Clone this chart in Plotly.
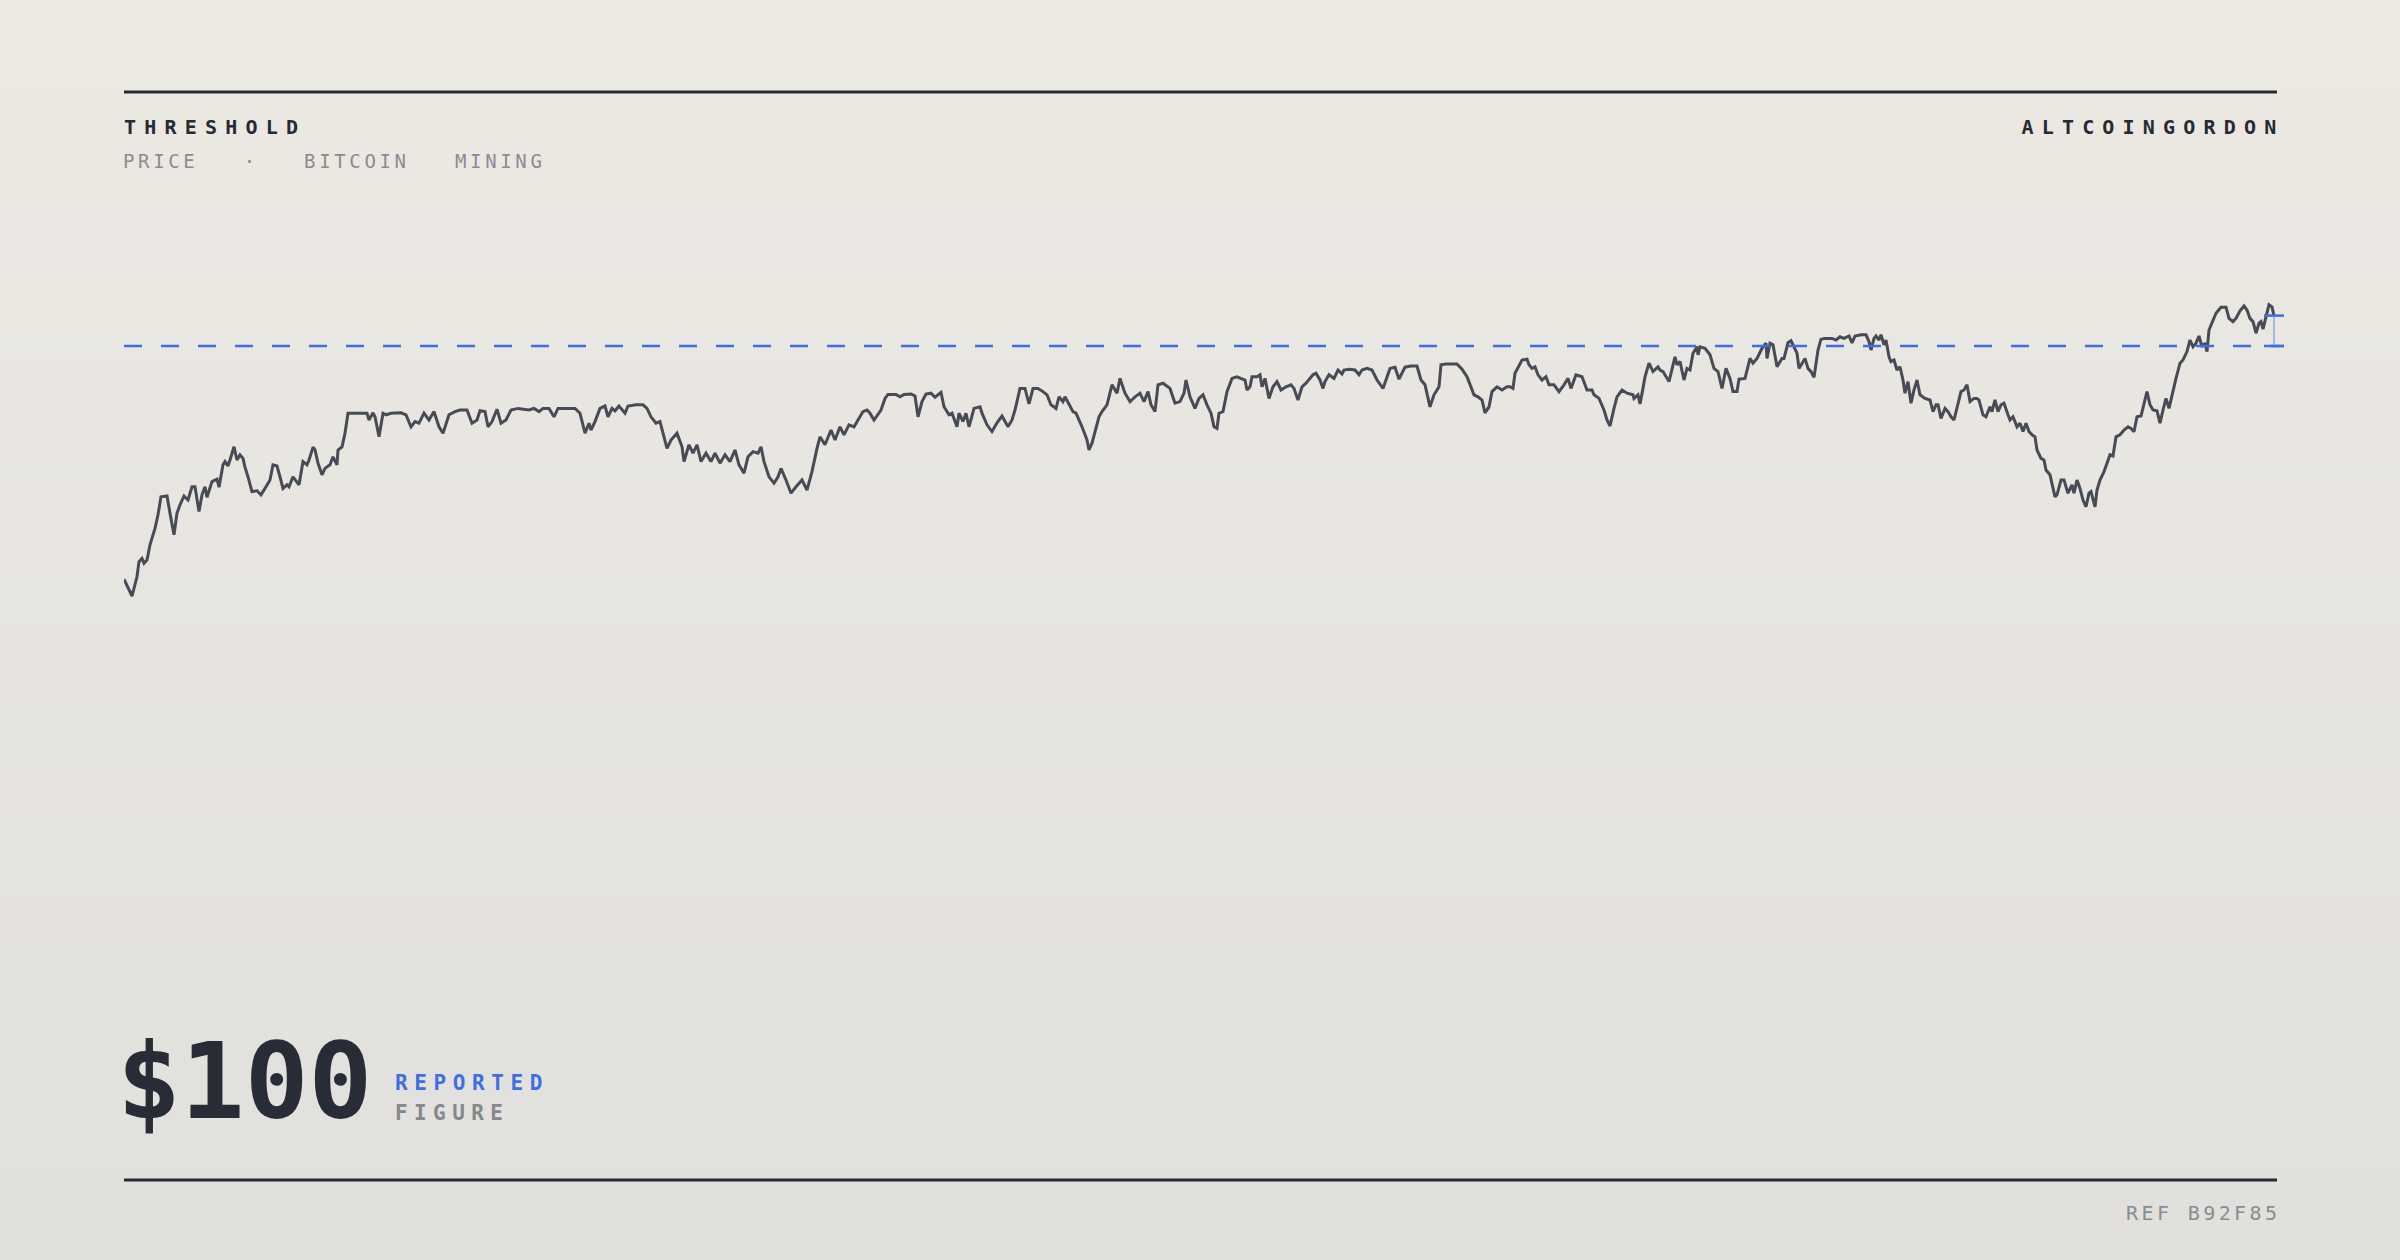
import json
import plotly.graph_objects as go

W, H = 2400, 1260

# ---------------- data ----------------
days = [
    0, 8, 13, 15, 18, 20, 23, 26, 31, 34, 37, 43, 46, 50, 53, 56, 60, 64, 68, 71,
    75, 78, 81, 83, 88, 93, 95, 99, 101, 104, 107, 110, 113, 116, 119, 121, 124, 128, 133, 137,
    141, 146, 149, 153, 156, 159, 163, 165, 169, 173, 175, 179, 183, 185, 189, 191, 194, 198, 201, 206,
    209, 213, 214, 218, 221, 224, 233, 243, 245, 249, 251, 255, 259, 262, 267, 273, 277, 282, 287, 291,
    295, 300, 305, 310, 315, 319, 325, 331, 336, 343, 348, 353, 356, 361, 364, 368, 373, 377, 382, 387,
    394, 405, 410, 415, 419, 425, 430, 434, 443, 451, 456, 461, 465, 467, 471, 476, 481, 484, 488, 491,
    495, 501, 504, 512, 519, 523, 527, 532, 536, 540, 543, 547, 553, 558, 560, 565, 569, 573, 577, 582,
    587, 591, 596, 601, 606, 611, 615, 620, 624, 629, 634, 637, 640, 645, 650, 654, 657, 662, 667, 672,
    678, 683, 688, 693, 696, 701, 707, 711, 716, 720, 725, 730, 734, 739, 743, 746, 750, 754, 757, 761,
    764, 772, 776, 780, 787, 791, 794, 798, 802, 807, 811, 817, 820, 825, 828, 833, 835, 839, 842, 845,
    850, 856, 858, 863, 868, 873, 878, 884, 888, 891, 896, 901, 905, 909, 914, 919, 923, 927, 932, 935,
    939, 941, 945, 949, 952, 958, 963, 965, 968, 972, 975, 978, 983, 988, 993, 996, 1001, 1006, 1011, 1016,
    1020, 1024, 1027, 1031, 1034, 1039, 1046, 1051, 1056, 1060, 1062, 1066, 1071, 1075, 1079, 1083, 1087, 1090, 1093, 1095,
    1099, 1103, 1108, 1113, 1118, 1121, 1123, 1126, 1128, 1133, 1136, 1138, 1141, 1145, 1149, 1153, 1157, 1162, 1167, 1170,
    1174, 1178, 1182, 1189, 1192, 1196, 1199, 1201, 1205, 1210, 1214, 1218, 1220, 1225, 1231, 1235, 1238, 1243, 1248, 1253,
    1259, 1262, 1266, 1271, 1275, 1281, 1287, 1293, 1297, 1301, 1306, 1310, 1315, 1317, 1322, 1333, 1338, 1343, 1347, 1350,
    1354, 1358, 1361, 1365, 1368, 1373, 1378, 1383, 1386, 1389, 1391, 1395, 1398, 1403, 1405, 1408, 1411, 1414, 1418, 1422,
    1425, 1430, 1435, 1440, 1444, 1447, 1452, 1458, 1463, 1468, 1470, 1475, 1480, 1483, 1486, 1490, 1493, 1498, 1503, 1509,
    1510, 1514, 1516, 1519, 1521, 1525, 1529, 1534, 1536, 1539, 1545, 1551, 1553, 1556, 1560, 1563, 1566, 1569, 1573, 1574,
    1576, 1581, 1586, 1590, 1594, 1598, 1602, 1606, 1609, 1613, 1615, 1621, 1626, 1629, 1633, 1638, 1642, 1643, 1646, 1649,
    1653, 1658, 1660, 1664, 1667, 1670, 1673, 1675, 1678, 1681, 1684, 1687, 1690, 1694, 1697, 1701, 1708, 1712, 1716, 1720,
    1725, 1728, 1731, 1737, 1742, 1745, 1747, 1750, 1752, 1755, 1757, 1760, 1762, 1765, 1767, 1770, 1773, 1776, 1779, 1781,
    1784, 1787, 1790, 1793, 1796, 1801, 1806, 1809, 1812, 1814, 1817, 1821, 1824, 1827, 1830, 1834, 1837, 1840, 1843, 1846,
    1850, 1853, 1855, 1859, 1862, 1866, 1868, 1871, 1874, 1877, 1880, 1884, 1886, 1889, 1893, 1896, 1899, 1902, 1905, 1908,
    1911, 1913, 1917, 1920, 1922, 1926, 1929, 1931, 1933, 1937, 1940, 1944, 1948, 1950, 1953, 1956, 1959, 1962, 1965, 1967,
    1971, 1973, 1976, 1980, 1983, 1986, 1989, 1992, 1996, 2000, 2004, 2007, 2010, 2013, 2017, 2020, 2023, 2026, 2029, 2033,
    2036, 2039, 2042, 2045, 2048, 2052, 2056, 2059, 2063, 2066, 2069, 2072, 2075, 2078, 2081, 2083, 2085, 2089, 2092, 2097,
    2102, 2105, 2109, 2112, 2116, 2120, 2123, 2126, 2129, 2132, 2135, 2137, 2139, 2142, 2145, 2148, 2150,
]

prices = [
    41.7, 37.5, 42.3, 46.1, 46.9, 45.7, 46.5, 50.3, 54.4, 57.8, 62.3, 62.5, 58.2, 52.8, 58.2, 60.3, 62.5, 61.5, 64.8, 64.8,
    58.6, 62.8, 64.8, 62.2, 66.1, 66.7, 64.7, 70.3, 71.1, 70.0, 72.3, 74.8, 71.5, 72.8, 71.9, 69.7, 67.3, 63.6, 63.8, 62.8,
    64.4, 66.5, 70.3, 70.0, 67.3, 64.4, 65.3, 64.8, 67.3, 66.1, 65.3, 71.1, 70.3, 71.5, 74.7, 74.0, 70.7, 67.8, 69.4, 70.3,
    72.3, 70.3, 74.0, 74.8, 78.2, 83.2, 83.2, 83.2, 81.5, 83.3, 82.3, 77.3, 83.2, 82.8, 83.2, 83.3, 83.3, 82.8, 79.8, 81.1,
    80.7, 83.2, 81.5, 83.6, 79.8, 78.2, 82.8, 83.6, 84.0, 84.0, 80.7, 81.5, 83.8, 83.6, 79.8, 81.1, 84.2, 80.7, 81.5, 84.0,
    84.4, 84.0, 84.4, 83.6, 84.4, 84.4, 82.3, 84.4, 84.4, 84.4, 83.2, 78.2, 80.7, 79.0, 81.1, 84.4, 85.0, 82.3, 84.4, 83.8,
    85.0, 83.2, 85.0, 85.3, 85.3, 84.4, 82.3, 80.7, 81.1, 77.3, 74.4, 76.5, 78.2, 74.8, 71.1, 75.3, 73.2, 75.3, 71.1, 73.2,
    71.1, 73.2, 70.7, 72.8, 71.1, 74.0, 70.3, 68.2, 72.3, 73.6, 73.2, 74.8, 71.1, 67.3, 65.7, 67.3, 69.4, 66.5, 63.2, 64.8,
    66.5, 64.0, 68.6, 74.4, 77.3, 75.3, 79.0, 76.5, 79.8, 77.8, 80.3, 79.8, 81.5, 83.6, 84.0, 83.2, 81.5, 82.8, 84.0, 86.9,
    87.9, 87.9, 87.3, 87.9, 88.0, 87.5, 82.3, 86.1, 88.0, 88.2, 87.2, 88.4, 84.8, 82.8, 83.2, 79.8, 83.2, 81.1, 83.2, 79.8,
    84.4, 84.8, 83.2, 80.3, 78.6, 80.8, 82.5, 79.8, 81.5, 84.0, 89.4, 89.4, 85.5, 89.4, 89.4, 88.6, 87.8, 85.3, 84.4, 87.3,
    86.1, 87.3, 85.3, 83.6, 83.2, 79.8, 76.5, 74.0, 75.7, 79.4, 82.3, 83.6, 85.3, 90.3, 88.2, 91.9, 88.2, 86.1, 87.3, 88.2,
    86.1, 88.6, 85.3, 83.6, 90.3, 90.7, 89.4, 85.7, 86.1, 88.2, 91.5, 87.3, 84.4, 86.9, 87.8, 85.3, 83.2, 79.8, 79.4, 83.2,
    83.6, 88.6, 91.9, 92.3, 91.9, 91.5, 89.0, 89.8, 92.3, 92.3, 92.8, 89.8, 91.9, 86.9, 89.8, 91.1, 89.0, 89.8, 90.3, 89.4,
    86.5, 89.8, 90.7, 92.8, 93.2, 91.5, 89.4, 91.1, 92.8, 91.9, 94.0, 93.0, 94.0, 94.2, 94.0, 92.8, 94.0, 94.4, 94.0, 91.5,
    89.4, 91.5, 94.4, 94.7, 91.7, 94.7, 95.0, 95.0, 91.5, 90.3, 84.8, 87.8, 89.8, 95.3, 95.5, 95.5, 94.2, 92.3, 89.4, 87.8,
    87.3, 86.5, 83.3, 84.8, 88.6, 89.8, 89.0, 89.8, 89.8, 89.4, 93.2, 95.3, 96.5, 96.7, 95.3, 94.4, 94.8, 92.8, 91.5, 92.3,
    90.3, 90.3, 88.6, 90.3, 91.9, 89.4, 92.8, 92.3, 89.0, 89.0, 87.8, 86.9, 84.0, 81.5, 80.0, 84.4, 87.3, 89.0, 88.2, 87.8,
    86.9, 87.8, 85.5, 89.4, 92.3, 95.7, 93.6, 94.8, 94.0, 93.6, 91.1, 97.3, 95.3, 96.1, 91.5, 94.4, 94.0, 98.2, 99.8, 97.8,
    99.8, 99.4, 97.8, 94.4, 93.6, 89.4, 94.4, 91.9, 88.6, 88.6, 91.7, 91.9, 96.9, 95.7, 96.9, 99.4, 100.7, 96.9, 100.7, 100.3,
    94.8, 96.9, 96.9, 100.8, 101.3, 99.8, 98.2, 94.4, 95.7, 96.9, 94.4, 93.6, 92.2, 99.0, 101.7, 101.9, 101.9, 101.5, 102.3, 101.9,
    102.5, 100.8, 102.5, 102.8, 102.8, 101.1, 99.0, 101.9, 102.5, 101.5, 102.8, 100.3, 101.5, 97.3, 96.1, 96.5, 94.0, 94.8, 91.5, 88.2,
    91.1, 85.7, 89.0, 91.5, 87.8, 86.9, 86.5, 83.6, 85.3, 85.3, 81.9, 84.4, 83.6, 82.3, 81.5, 85.3, 88.6, 89.0, 90.3, 86.1,
    86.9, 86.9, 86.5, 82.8, 82.3, 84.8, 83.6, 86.5, 83.6, 85.3, 85.7, 82.8, 81.5, 82.3, 79.8, 80.7, 78.6, 80.7, 78.6, 77.8,
    77.3, 74.0, 71.9, 71.5, 69.0, 67.8, 64.4, 62.3, 62.8, 66.5, 66.5, 63.2, 65.3, 63.2, 66.5, 64.4, 61.5, 59.8, 63.2, 63.6,
    59.8, 64.0, 66.5, 68.6, 70.7, 72.8, 72.5, 77.3, 77.8, 79.0, 79.8, 79.4, 78.6, 82.3, 82.5, 85.7, 88.6, 85.3, 84.0, 83.8,
    80.7, 84.0, 86.9, 84.4, 87.8, 91.9, 95.7, 96.5, 98.6, 101.5, 99.8, 100.7, 102.5, 99.8, 100.7, 98.6, 104.0, 106.5, 108.2, 109.7,
    109.7, 106.9, 106.1, 106.9, 108.8, 110.0, 109.0, 106.9, 106.1, 103.2, 105.7, 106.1, 104.2, 107.3, 110.3, 109.8, 107.6,
]

threshold = 100.0

title_text = "THRESHOLD"
subtitle_text = "PRICE \u00a0 · \u00a0 BITCOIN \u00a0 MINING"
brand_text = "ALTCOINGORDON"
figure_value = "$100"
figure_label_top = "REPORTED"
figure_label_bottom = "FIGURE"
ref_text = "REF B92F85"

# ---------------- style ----------------
FONT = "DejaVu Sans Mono"
INK = "#262a33"
LINE = "#474b55"
BLUE = "#3b6fe6"
BLUE_LIGHT = "#8aa9f0"
MUTED = "#8a8c92"
MUTED2 = "#85878e"
BG_TOP = (236, 233, 227)
BG_BOT = (226, 224, 220)

TICK_HALF = 10  # half-width of the bracket ticks, in x units


def px(x):
    return x / W


def py(y):
    return 1 - y / H


fig = go.Figure()

fig.add_trace(go.Scatter(
    x=days, y=prices, mode="lines",
    line=dict(color=LINE, width=3),
    hoverinfo="skip", showlegend=False,
))

fig.add_trace(go.Scatter(
    x=[days[0], days[-1] + TICK_HALF], y=[threshold, threshold], mode="lines",
    line=dict(color=BLUE, width=2.5, dash="18px,19px"),
    hoverinfo="skip", showlegend=False,
))

last_day, last_val = days[-1], prices[-1]
fig.add_trace(go.Scatter(
    x=[last_day, last_day], y=[threshold, last_val], mode="lines",
    line=dict(color=BLUE_LIGHT, width=1.5),
    hoverinfo="skip", showlegend=False,
))
fig.add_trace(go.Scatter(
    x=[last_day - TICK_HALF, last_day + TICK_HALF, None, last_day - TICK_HALF, last_day + TICK_HALF],
    y=[threshold, threshold, None, last_val, last_val], mode="lines",
    line=dict(color=BLUE, width=2.5),
    hoverinfo="skip", showlegend=False,
))

# background gradient bands
shapes = []
n_bands = 42
for i in range(n_bands):
    t = i / (n_bands - 1)
    c = tuple(round(BG_TOP[k] + (BG_BOT[k] - BG_TOP[k]) * t) for k in range(3))
    shapes.append(dict(
        type="rect", xref="paper", yref="paper", layer="below",
        x0=0, x1=1, y0=1 - (i + 1) / n_bands, y1=1 - i / n_bands,
        fillcolor="rgb(%d,%d,%d)" % c, line=dict(width=0),
    ))

# rules
for yy in (92, 1180):
    shapes.append(dict(
        type="line", xref="paper", yref="paper",
        x0=px(124), x1=px(2277), y0=py(yy), y1=py(yy),
        line=dict(color=INK, width=3),
    ))

annotations = [
    dict(text=title_text, x=px(123), y=py(127), xanchor="left", yanchor="middle", align="left",
         font=dict(family=FONT, size=20, color=INK, weight="bold")),
    dict(text=subtitle_text, x=px(122), y=py(160.5), xanchor="left", yanchor="middle", align="left",
         font=dict(family=FONT, size=19, color=MUTED)),
    dict(text=brand_text, x=px(2286), y=py(127), xanchor="right", yanchor="middle", align="right",
         font=dict(family=FONT, size=20, color=INK, weight="bold")),
    dict(text=figure_value, x=px(116), y=py(1081), xanchor="left", yanchor="middle", align="left",
         font=dict(family=FONT, size=106, color="#272c37", weight="bold")),
    dict(text=figure_label_top, x=px(394), y=py(1083), xanchor="left", yanchor="middle", align="left",
         font=dict(family=FONT, size=21, color=BLUE, weight="bold")),
    dict(text=figure_label_bottom, x=px(394), y=py(1113), xanchor="left", yanchor="middle", align="left",
         font=dict(family=FONT, size=21, color=MUTED2, weight="bold")),
    dict(text=ref_text, x=px(2281), y=py(1212.5), xanchor="right", yanchor="middle", align="right",
         font=dict(family=FONT, size=20, color=MUTED)),
]
for a in annotations:
    a.update(xref="paper", yref="paper", showarrow=False, borderpad=0)

letter_spacing = {
    title_text: 8.2,
    subtitle_text: 3.65,
    brand_text: 8.2,
    figure_label_top: 6.6,
    figure_label_bottom: 6.4,
    ref_text: 3.4,
}

fig.update_layout(
    width=W, height=H,
    margin=dict(l=0, r=0, t=0, b=0, pad=0),
    paper_bgcolor="rgb(%d,%d,%d)" % BG_TOP,
    plot_bgcolor="rgba(0,0,0,0)",
    showlegend=False,
    shapes=shapes,
    annotations=annotations,
    xaxis=dict(domain=[px(124), px(2290)], range=[0, 2166], visible=False,
               showgrid=False, zeroline=False, fixedrange=True),
    yaxis=dict(domain=[0, 1], range=[-128.5, 186.5], visible=False,
               showgrid=False, zeroline=False, fixedrange=True),
    hovermode=False,
)

post_script = """
document.documentElement.style.margin='0';
document.body.style.margin='0';
document.body.style.overflow='hidden';
var gd = document.getElementById('{plot_id}');
var SP = %s;
function applySpacing(){
  var ts = gd.querySelectorAll('text.annotation-text');
  for (var i = 0; i < ts.length; i++) {
    var k = ts[i].textContent;
    if (Object.prototype.hasOwnProperty.call(SP, k)) { ts[i].style.letterSpacing = SP[k] + 'px'; }
  }
}
applySpacing();
gd.on('plotly_afterplot', applySpacing);
""" % json.dumps(letter_spacing)

fig.write_html("out.html", config={"displayModeBar": False, "staticPlot": True},
               post_script=post_script)
